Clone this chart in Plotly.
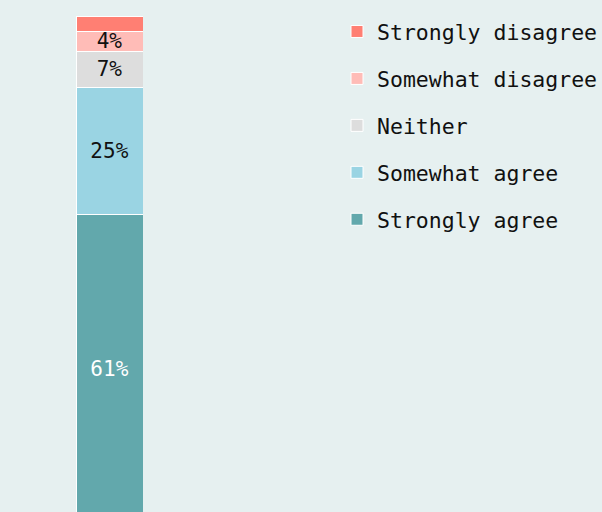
import plotly.graph_objects as go

categories = ["Strongly agree", "Somewhat agree", "Neither", "Somewhat disagree", "Strongly disagree"]
values = [61, 25, 7, 4, 3]
labels = ["61%", "25%", "7%", "4%", ""]
colors = ["#62a8ac", "#9ad4e3", "#dddddd", "#ffbcb7", "#ff7f73"]
text_colors = ["#ffffff", "#111111", "#111111", "#111111", "#111111"]

FONT = "DejaVu Sans Mono"
fig = go.Figure()
n = len(categories)
for i, (cat, v, lab, col, tc) in enumerate(zip(categories, values, labels, colors, text_colors)):
    fig.add_trace(go.Bar(
        x=[0], y=[v], name=cat, legendgroup=cat, legendrank=n - i,
        marker=dict(color=col, line=dict(color="#ffffff", width=1)),
        text=[lab], textposition="inside", insidetextanchor="middle",
        constraintext="none",
        textfont=dict(family=FONT, size=21, color=tc),
        hoverinfo="skip", width=1, cliponaxis=True,
    ))

fig.update_layout(
    width=602, height=512,
    barmode="stack",
    paper_bgcolor="#e6f0f0", plot_bgcolor="#e6f0f0",
    margin=dict(l=76, r=459, t=16, b=0),
    xaxis=dict(range=[-0.5, 0.5], visible=False, fixedrange=True),
    yaxis=dict(range=[2.36, 100], visible=False, fixedrange=True),
    showlegend=True,
    legend=dict(
        xref="container", yref="container",
        x=337 / 602, y=1 - 11 / 512, xanchor="left", yanchor="top",
        traceorder="grouped", tracegroupgap=16,
        font=dict(family=FONT, size=21.5, color="#111111"),
        bgcolor="rgba(0,0,0,0)",
    ),
)
fig.write_html("out.html", config={"displayModeBar": False},
               post_script="document.body.style.margin='0';document.body.style.overflow='hidden';")
